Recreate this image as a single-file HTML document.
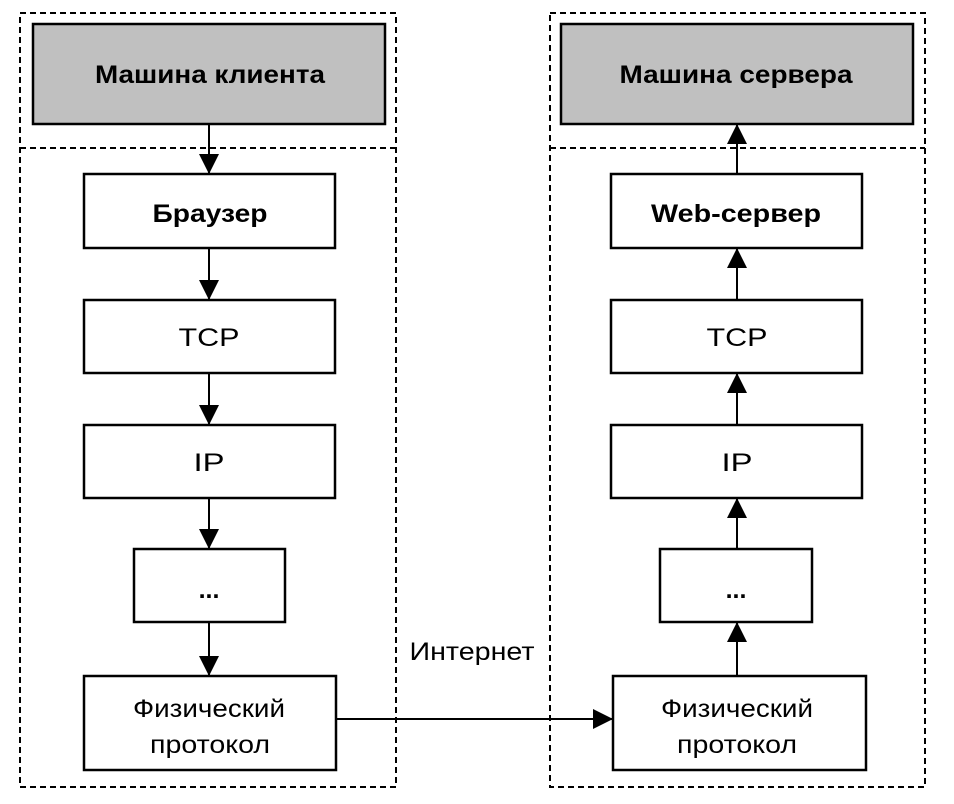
<!DOCTYPE html>
<html><head><meta charset="utf-8"><style>html,body{margin:0;padding:0;background:#fff}svg{display:block}</style></head>
<body>
<svg width="954" height="804" viewBox="0 0 954 804" xmlns="http://www.w3.org/2000/svg" font-family="Liberation Sans, Arial, sans-serif">
<defs>
<marker id="a" markerWidth="20" markerHeight="20" refX="20" refY="10" orient="auto" markerUnits="userSpaceOnUse">
<path d="M0,0 L20,10 L0,20 z" fill="#000"/>
</marker>
</defs>
<g fill="none" stroke="#000" stroke-width="2" stroke-dasharray="6,4">
<rect x="20" y="13" width="376" height="774"/>
<line x1="20" y1="148" x2="396" y2="148"/>
<rect x="550" y="13" width="375" height="774"/>
<line x1="550" y1="148" x2="925" y2="148"/>
</g>
<g stroke="#000" stroke-width="2.5">
<rect x="33" y="24" width="352" height="100" fill="#c0c0c0"/>
<rect x="84" y="174" width="251" height="74" fill="#fff"/>
<rect x="84" y="300" width="251" height="73" fill="#fff"/>
<rect x="84" y="425" width="251" height="73" fill="#fff"/>
<rect x="134" y="549" width="151" height="73" fill="#fff"/>
<rect x="84" y="676" width="252" height="94" fill="#fff"/>
<rect x="561" y="24" width="352" height="100" fill="#c0c0c0"/>
<rect x="611" y="174" width="251" height="74" fill="#fff"/>
<rect x="611" y="300" width="251" height="73" fill="#fff"/>
<rect x="611" y="425" width="251" height="73" fill="#fff"/>
<rect x="660" y="549" width="152" height="73" fill="#fff"/>
<rect x="613" y="676" width="253" height="94" fill="#fff"/>
</g>
<g stroke="#000" stroke-width="2" marker-end="url(#a)">
<line x1="209" y1="124" x2="209" y2="174"/>
<line x1="209" y1="248" x2="209" y2="300"/>
<line x1="209" y1="373" x2="209" y2="425"/>
<line x1="209" y1="498" x2="209" y2="549"/>
<line x1="209" y1="622" x2="209" y2="676"/>
<line x1="737" y1="174" x2="737" y2="124"/>
<line x1="737" y1="300" x2="737" y2="248"/>
<line x1="737" y1="425" x2="737" y2="373"/>
<line x1="737" y1="549" x2="737" y2="498"/>
<line x1="737" y1="676" x2="737" y2="622"/>
<line x1="336" y1="719" x2="613" y2="719"/>
</g>
<g text-anchor="middle" font-size="25" lengthAdjust="spacingAndGlyphs">
<text x="210" y="83" font-weight="bold" textLength="230" lengthAdjust="spacingAndGlyphs">Машина клиента</text>
<text x="210" y="222" font-weight="bold" textLength="115" lengthAdjust="spacingAndGlyphs">Браузер</text>
<text x="209" y="346" textLength="61" lengthAdjust="spacingAndGlyphs">TCP</text>
<text x="209" y="471" textLength="31" lengthAdjust="spacingAndGlyphs">IP</text>
<text x="209" y="598" font-weight="bold">...</text>
<text x="209" y="717" textLength="152" lengthAdjust="spacingAndGlyphs">Физический</text>
<text x="210" y="753" textLength="120" lengthAdjust="spacingAndGlyphs">протокол</text>
<text x="736" y="83" font-weight="bold" textLength="233" lengthAdjust="spacingAndGlyphs">Машина сервера</text>
<text x="736" y="222" font-weight="bold" textLength="170" lengthAdjust="spacingAndGlyphs">Web-сервер</text>
<text x="737" y="346" textLength="61" lengthAdjust="spacingAndGlyphs">TCP</text>
<text x="737" y="471" textLength="31" lengthAdjust="spacingAndGlyphs">IP</text>
<text x="736" y="598" font-weight="bold">...</text>
<text x="737" y="717" textLength="152" lengthAdjust="spacingAndGlyphs">Физический</text>
<text x="737" y="753" textLength="120" lengthAdjust="spacingAndGlyphs">протокол</text>
<text x="472" y="660" textLength="125" lengthAdjust="spacingAndGlyphs">Интернет</text>
</g>
</svg>
</body></html>
